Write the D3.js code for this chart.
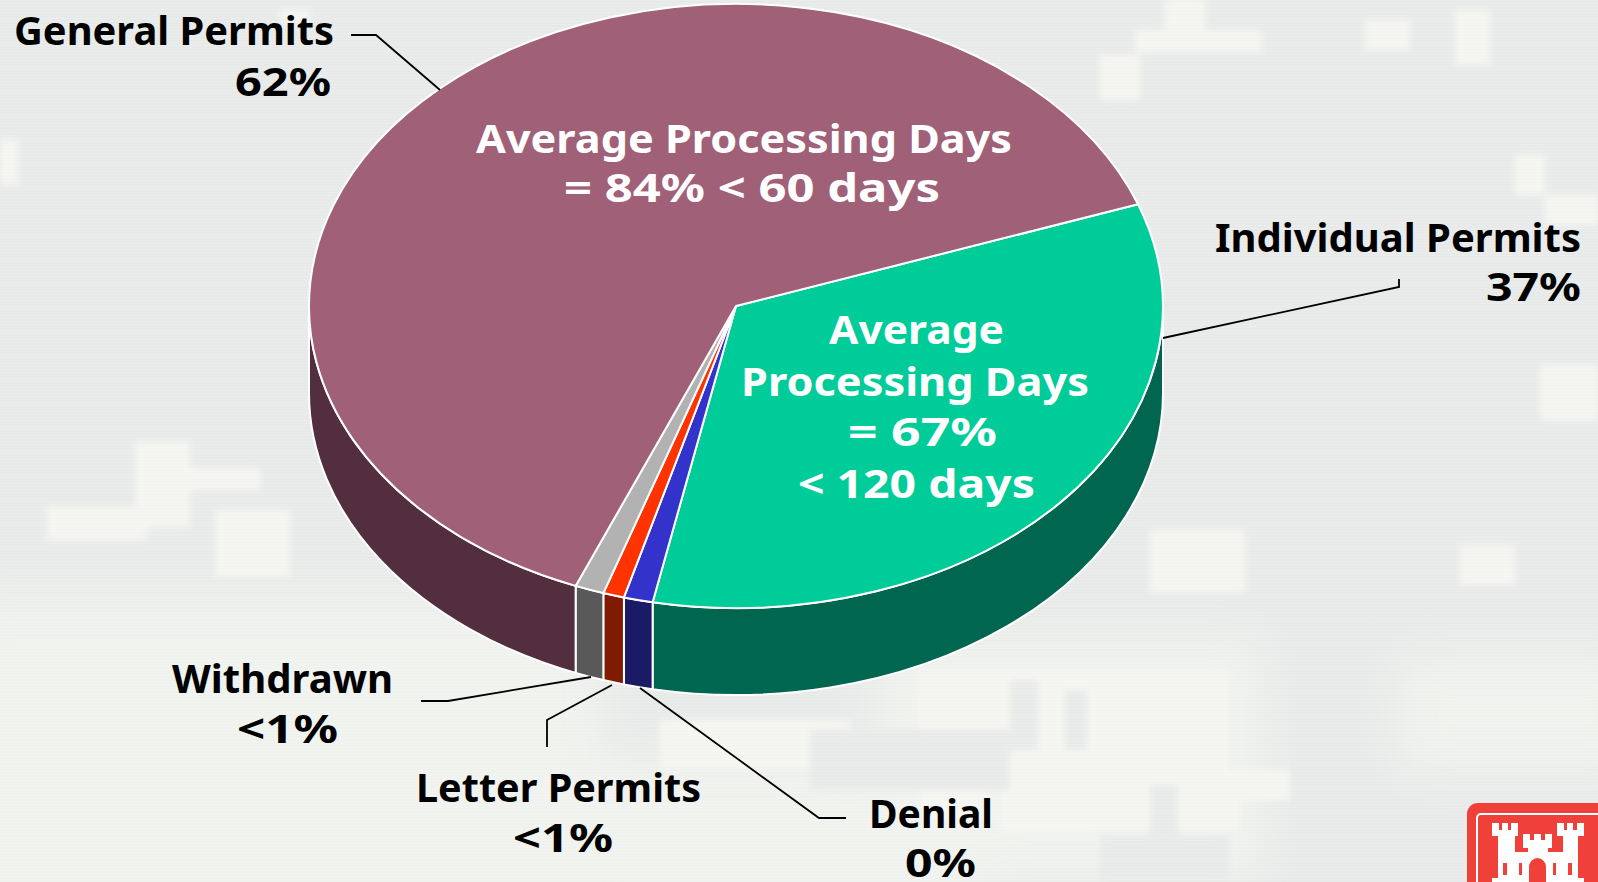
<!DOCTYPE html>
<html>
<head>
<meta charset="utf-8">
<script src="https://d3js.org/d3.v7.min.js"></script>
<style>
	html, body { margin:0; padding:0; background:#e7eae8; overflow:hidden; }
	svg { display:block; }
	text { font-family:"Noto Sans", sans-serif; font-weight:700; }
</style>
</head>
<body>
<svg></svg>
<script type="text/javascript">
	// slices run clockwise from the Individual/General edge, shares
	var categories = ["Individual Permits", "Denial", "Letter Permits", "Withdrawn", "General Permits"];
	var shares = [33.6, 1.1, 0.8, 1.1, 63.4];
	var shareLabels = ["37%", "0%", "<1%", "<1%", "62%"];
	var topColors = ["#00cc99", "#3333cc", "#ff3300", "#b2b2b2", "#a06078"];
	var sideColors = ["#006650", "#1a1a66", "#801a00", "#595959", "#532e3e"];

	var width = 1598, height = 882;
	var cx = 736, cy = 306, rx = 427, ry = 302, depth = 87;
	var startDeg = 70.3;

	var svg = d3.select("svg").attr("width", width).attr("height", height);
	var defs = svg.append("defs");
	defs.append("filter").attr("id", "soft")
		.attr("x", "-10%").attr("y", "-10%").attr("width", "120%").attr("height", "120%")
		.append("feGaussianBlur").attr("stdDeviation", 3);
	defs.append("filter").attr("id", "wide")
		.attr("x", "-20%").attr("y", "-20%").attr("width", "140%").attr("height", "140%")
		.append("feGaussianBlur").attr("stdDeviation", 22);
	var lines = defs.append("pattern").attr("id", "scan")
		.attr("width", 4).attr("height", 3).attr("patternUnits", "userSpaceOnUse");
	lines.append("rect").attr("width", 4).attr("height", 1).attr("fill", "#fff").attr("opacity", 0.16);

	// camouflage background, just blotches
	var washPatches = [[-40,600,640,340],[560,760,420,160],[1400,660,240,110],[880,640,380,240]];
	var lightPatches = [
		[47,507,100,33],[135,442,55,85],[190,468,70,22],[215,510,75,67],
		[1165,0,40,30],[1135,30,127,22],[1100,55,40,45],[1515,155,30,40],[1545,195,53,30],
		[1540,365,58,55],[1150,530,95,62],[1460,545,55,40],[0,140,18,45],[280,10,30,12],
		[918,670,310,100],[1000,770,240,60],[920,770,70,50],[660,720,190,50],[1240,770,50,30],
		[1365,20,45,30],[1455,10,35,55]
	];
	var darkPatches = [[1010,680,28,70],[1065,690,22,60],[1150,785,28,65],[810,730,200,60],[1100,835,130,47]];
	var washGroup = svg.append("g").attr("filter", "url(#wide)");
	washGroup.selectAll("rect").data(washPatches).enter().append("rect")
		.attr("x", function(d){return d[0];}).attr("y", function(d){return d[1];})
		.attr("width", function(d){return d[2];}).attr("height", function(d){return d[3];})
		.attr("fill", "#f0f2ee");
	var softGroup = svg.append("g").attr("filter", "url(#soft)");
	softGroup.selectAll("rect.light").data(lightPatches).enter().append("rect")
		.attr("class", "light")
		.attr("x", function(d){return d[0];}).attr("y", function(d){return d[1];})
		.attr("width", function(d){return d[2];}).attr("height", function(d){return d[3];})
		.attr("fill", "#f4f5f1");
	softGroup.selectAll("rect.dark").data(darkPatches).enter().append("rect")
		.attr("class", "dark")
		.attr("x", function(d){return d[0];}).attr("y", function(d){return d[1];})
		.attr("width", function(d){return d[2];}).attr("height", function(d){return d[3];})
		.attr("fill", "#e7eae8");
	svg.append("rect").attr("width", width).attr("height", height).attr("fill", "url(#scan)");

	var start = startDeg * Math.PI / 180;
	var pie = d3.pie().sort(null).startAngle(start).endAngle(start + 2 * Math.PI);
	var slices = pie(shares);
	slices.forEach(function(d, i){ d.index = i; });

	function rim(a, dy) {
		return [cx + rx * Math.sin(a), cy - ry * Math.cos(a) + (dy || 0)];
	}
	// side wall of a slice, only the front half of the rim shows
	function wallPath(d) {
		var a0 = Math.max(d.startAngle, Math.PI / 2);
		var a1 = Math.min(d.endAngle, 3 * Math.PI / 2);
		if (a1 <= a0) return null;
		var p0 = rim(a0), p1 = rim(a1), q1 = rim(a1, depth), q0 = rim(a0, depth);
		return "M" + p0 + "A" + rx + "," + ry + " 0 0 1 " + p1 +
			"L" + q1 + "A" + rx + "," + ry + " 0 0 0 " + q0 + "Z";
	}

	svg.append("g").selectAll("path").data(slices).enter().append("path")
		.attr("d", wallPath)
		.attr("fill", function(d){return sideColors[d.index];})
		.attr("stroke", "#fff").attr("stroke-width", 2).attr("stroke-linejoin", "round");

	var arc = d3.arc().innerRadius(0).outerRadius(rx);
	svg.append("g")
		.attr("transform", "translate(" + cx + "," + cy + ") scale(1," + (ry / rx) + ")")
		.selectAll("path").data(slices).enter().append("path")
		.attr("d", arc)
		.attr("fill", function(d){return topColors[d.index];})
		.attr("stroke", "#fff").attr("stroke-width", 2).attr("stroke-linejoin", "round")
		.attr("vector-effect", "non-scaling-stroke");

	// leader lines
	var leaders = [
		[[351,35],[376,35],[440,90]],
		[[1399,279],[1399,287],[1163,338]],
		[[421,701],[448,701],[591,677]],
		[[547,747],[547,720],[612,685]],
		[[846,818],[819,818],[640,688]]
	];
	svg.append("g").selectAll("path").data(leaders).enter().append("path")
		.attr("d", d3.line())
		.attr("fill", "none").attr("stroke", "#000").attr("stroke-width", 1.8);

	// outer labels: text, left, right, baseline
	var labelBoxes = [
		[categories[4], 14, 334, 45], [shareLabels[4], 235, 331, 96],
		[categories[0], 1215, 1581, 252], [shareLabels[0], 1486, 1581, 301],
		[categories[3], 172, 393, 693], [shareLabels[3], 237, 338, 743],
		[categories[2], 416, 701, 802], [shareLabels[2], 513, 613, 852],
		[categories[1], 869, 993, 828], [shareLabels[1], 905, 976, 877]
	];
	var insideBoxes = [
		["Average Processing Days", 476, 1012, 153], ["= 84% < 60 days", 564, 940, 202],
		["Average", 829, 1004, 344], ["Processing Days", 741, 1089, 396],
		["= 67%", 848, 997, 446], ["< 120 days", 798, 1035, 498]
	];
	function drawText(boxes, color) {
		svg.append("g").selectAll("text").data(boxes).enter().append("text")
			.attr("x", function(d){return d[1];})
			.attr("y", function(d){return d[3];})
			.attr("textLength", function(d){return d[2] - d[1];})
			.attr("lengthAdjust", "spacingAndGlyphs")
			.attr("font-size", 39)
			.attr("fill", color)
			.text(function(d){return d[0];});
	}
	drawText(labelBoxes, "#000");
	drawText(insideBoxes, "#fff");

	// castle logo, cut off by the page corner
	var logo = svg.append("g");
	logo.append("rect").attr("x", 1467).attr("y", 803).attr("width", 160).attr("height", 120)
		.attr("rx", 11).attr("fill", "#f0403a");
	logo.append("rect").attr("x", 1477).attr("y", 814).attr("width", 140).attr("height", 100)
		.attr("rx", 4).attr("fill", "none").attr("stroke", "#fff").attr("stroke-width", 2);
	var castleWhite = [
		// crowns with merlons, shafts, curtain wall, foot
		[1492,823,7,12],[1502,823,6,12],[1511,823,7,12],[1492,830,26,6],[1498,835,17,47],
		[1523,834,7,14],[1534,834,7,14],[1545,834,7,14],[1523,840,29,8],[1528,848,20,34],
		[1557,823,7,12],[1567,823,6,12],[1577,823,7,12],[1557,830,27,6],[1563,835,15,47],
		[1515,852,48,30],[1492,878,92,4]
	];
	var castleRed = [[1503,863,4,12],[1519,863,3,12],[1553,863,3,12],[1568,863,4,12]];
	logo.selectAll("rect.wall").data(castleWhite).enter().append("rect")
		.attr("class", "wall")
		.attr("x", function(d){return d[0];}).attr("y", function(d){return d[1];})
		.attr("width", function(d){return d[2];}).attr("height", function(d){return d[3];})
		.attr("fill", "#fff");
	logo.selectAll("rect.window").data(castleRed).enter().append("rect")
		.attr("class", "window")
		.attr("x", function(d){return d[0];}).attr("y", function(d){return d[1];})
		.attr("width", function(d){return d[2];}).attr("height", function(d){return d[3];})
		.attr("fill", "#f0403a");
	logo.append("path").attr("d", "M1529,882v-15a8.5,9 0 0 1 17,0v15z").attr("fill", "#f0403a");
</script>
</body>
</html>
